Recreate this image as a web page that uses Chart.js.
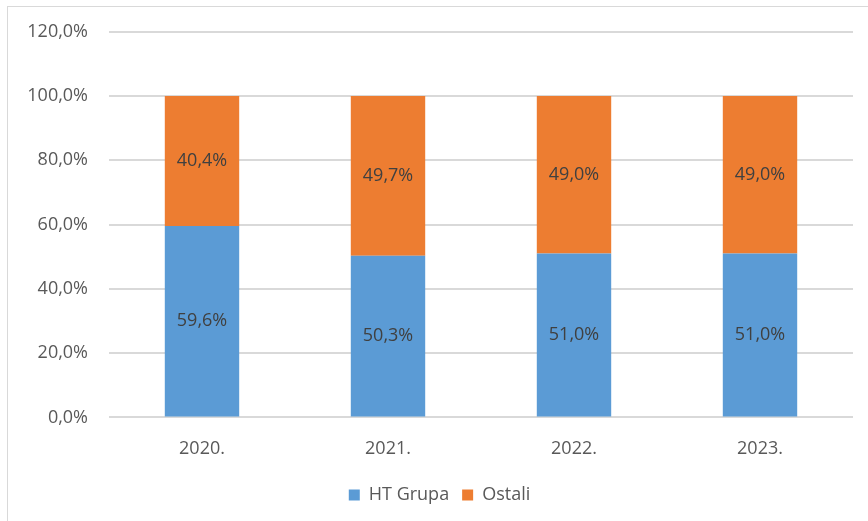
<!DOCTYPE html>
<html>
<head>
<meta charset="utf-8">
<script src="https://cdn.jsdelivr.net/npm/chart.js@4"></script>
<style>
  body { margin: 0; background: #fff; overflow: hidden; }
  #frame { position: absolute; left: 7px; top: 6px; width: 880px; height: 530px; border: 1px solid #d9d9d9; }
  #wrap { position: absolute; left: 0; top: 0; width: 868px; height: 521px; }
</style>
</head>
<body>
<div id="frame"></div>
<div id="wrap"><canvas id="chart"></canvas></div>
<script>
// Data
const years = ['2020.', '2021.', '2022.', '2023.'];
const htGrupa = [59.6, 50.3, 51.0, 51.0];
const ostali = [40.4, 49.7, 49.0, 49.0];
const yTicks = [0, 20, 40, 60, 80, 100, 120];

const fmt = v => v.toFixed(1).replace('.', ',') + '%';

// draws the value in the middle of every bar segment
const segmentLabels = {
    id: 'segmentLabels',
    afterDatasetsDraw(chart) {
        const ctx = chart.ctx;
        ctx.save();
        ctx.font = '18px "Open Sans"';
        ctx.fillStyle = '#404040';
        ctx.textAlign = 'center';
        ctx.textBaseline = 'middle';
        chart.data.datasets.forEach((ds, i) => {
            chart.getDatasetMeta(i).data.forEach((bar, j) => {
                const mid = (bar.y + bar.base) / 2;
                ctx.fillText(fmt(ds.data[j]), bar.x, mid);
            });
        });
        ctx.restore();
    }
};

new Chart(document.getElementById('chart'), {
    type: 'bar',
    data: {
        labels: years,
        datasets: [
            { label: 'HT Grupa', data: htGrupa, backgroundColor: '#5B9BD5' },
            { label: 'Ostali', data: ostali, backgroundColor: '#ED7D31' }
        ]
    },
    options: {
        responsive: true,
        maintainAspectRatio: false,
        animation: false,
        layout: { padding: { top: 27, right: 15, left: 26, bottom: 7 } },
        datasets: { bar: { barPercentage: 0.4, categoryPercentage: 1 } },
        scales: {
            x: {
                stacked: true,
                grid: { display: false },
                border: { display: false },
                ticks: { color: '#595959', font: { family: 'Open Sans', size: 18 }, padding: 13 }
            },
            y: {
                stacked: true,
                min: 0,
                max: 120,
                afterBuildTicks: axis => { axis.ticks = yTicks.map(v => ({ value: v })); },
                afterFit: axis => { axis.width = 83; },
                grid: { color: '#d9d9d9', lineWidth: 2, drawTicks: false },
                border: { display: false },
                ticks: { color: '#595959', font: { family: 'Open Sans', size: 18 }, padding: 21, callback: v => fmt(v) }
            }
        },
        plugins: {
            legend: {
                position: 'bottom',
                labels: { color: '#595959', font: { family: 'Open Sans', size: 18 }, boxWidth: 11, boxHeight: 11, padding: 13 }
            },
            tooltip: { enabled: false }
        }
    },
    plugins: [segmentLabels]
});
</script>
</body>
</html>
